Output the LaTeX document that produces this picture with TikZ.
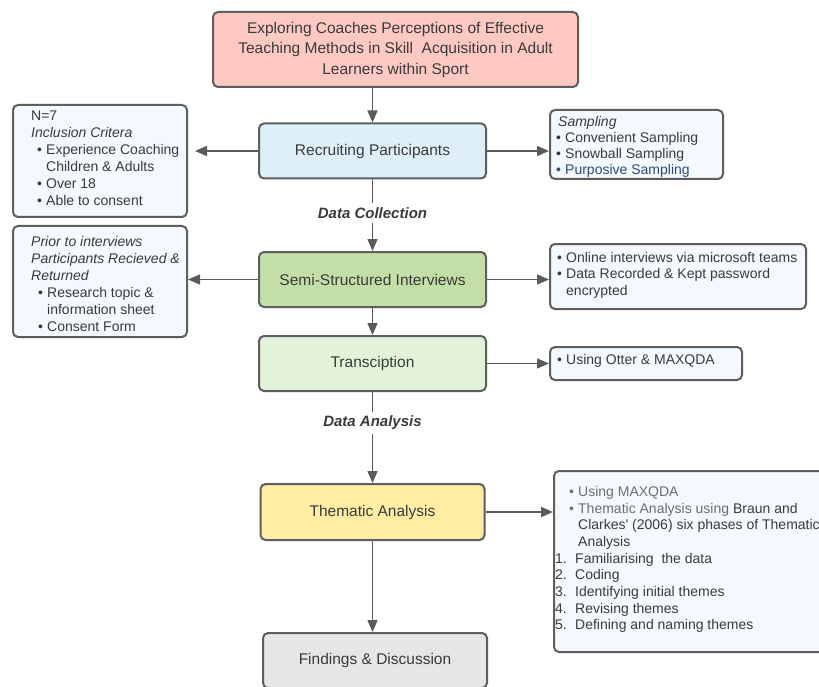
\documentclass[tikz,border=0pt]{standalone}
\usepackage{fontspec}
\setmainfont{Liberation Sans}
\usetikzlibrary{arrows.meta}

\definecolor{edgegrey}{HTML}{5E5E5E}
\definecolor{linkgrey}{HTML}{5A5A5A}
\definecolor{inkdark}{HTML}{3A3A3A}
\definecolor{inksoft}{HTML}{6E6E6E}
\definecolor{inkblue}{HTML}{2E4A78}
\definecolor{titlefill}{HTML}{FFC9C3}
\definecolor{recfill}{HTML}{DEEFF9}
\definecolor{semifill}{HTML}{C3DEA6}
\definecolor{transfill}{HTML}{E3F3D9}
\definecolor{themfill}{HTML}{FFEDA6}
\definecolor{findfill}{HTML}{E6E6E6}
\definecolor{notefill}{HTML}{F3F9FE}

% bullet with a fixed-width slot
\newcommand{\bul}{\makebox[9pt][l]{\textbullet}}
% list number with a fixed-width slot
\newcommand{\numslot}[1]{\makebox[20pt][l]{#1}}

\begin{document}
\begin{tikzpicture}[x=1pt,y=-1pt,
  box/.style={draw=edgegrey, line width=2pt, rounded corners=5pt, inner sep=0pt},
  stage/.style={box, minimum width=227pt, minimum height=55pt, text=inkdark,
    font=\fontsize{15.5}{19}\selectfont},
  note/.style={box, fill=notefill},
  notetext/.style={anchor=north west, inner sep=0pt, align=left, text=inkdark,
    font=\fontsize{14}{17}\selectfont},
  link/.style={draw=linkgrey, line width=1.5pt, -{Triangle[length=12pt,width=10pt]}},
  plain/.style={draw=linkgrey, line width=1.5pt},
  phase/.style={font=\fontsize{15}{18}\selectfont\bfseries\itshape, text=inkdark, inner sep=4pt}
]
\clip (0,0) rectangle (819,687);
\fill[white] (0,0) rectangle (819,687);

% main flow
\node[box, fill=titlefill, minimum width=365pt, minimum height=75pt, align=center,
  text=inkdark, font=\fontsize{15.5}{20.5}\selectfont] (title) at (395.5,49.5)
  {Exploring Coaches Perceptions of Effective\\Teaching Methods in Skill~ Acquisition in Adult\\Learners within Sport};
\node[stage, fill=recfill] (rec) at (372.5,151) {Recruiting Participants};
\node[phase] (collect) at (372.5,213) {Data Collection};
\node[stage, fill=semifill] (semi) at (372.5,279.5) {Semi-Structured Interviews};
\node[stage, fill=transfill] (trans) at (372.5,363.5) {Transciption};
\node[phase] (analyse) at (372.5,423) {Data Analysis};
\node[stage, fill=themfill, minimum width=224pt, minimum height=56pt] (them) at (372.5,512) {Thematic Analysis};
\node[stage, fill=findfill, minimum width=224pt] (find) at (375,660.5) {Findings \& Discussion};

% side notes, left
\node[note, minimum width=174pt, minimum height=112pt] (crit) at (100,161) {};
\node[notetext] (crittext) at ([xshift=19pt,yshift=-7pt]crit.north west)
  {N=7\\
   \textit{Inclusion Critera}\\
   \hspace*{6pt}\bul Experience Coaching\\
   \hspace*{15pt}Children \& Adults\\
   \hspace*{6pt}\bul Over 18\\
   \hspace*{6pt}\bul Able to consent};

\node[note, minimum width=174pt, minimum height=111pt] (prior) at (100,281.5) {};
\node[notetext] (priortext) at ([xshift=19pt,yshift=-11pt]prior.north west)
  {\textit{Prior to interviews}\\
   \textit{Participants Recieved \&}\\
   \textit{Returned}\\
   \hspace*{7pt}\bul Research topic \&\\
   \hspace*{16pt}information sheet\\
   \hspace*{7pt}\bul Consent Form};

% side notes, right
\node[note, minimum width=173pt, minimum height=69pt] (samp) at (636.5,144.5) {};
\node[notetext, font=\fontsize{14}{16}\selectfont] (samptext) at ([xshift=7pt,yshift=-7pt]samp.north west)
  {\hspace*{2pt}\textit{Sampling}\\
   \bul Convenient Sampling\\
   \bul Snowball Sampling\\
   \textcolor{inkblue}{\bul Purposive Sampling}};

\node[note, minimum width=256pt, minimum height=65pt] (online) at (678,276.5) {};
\node[notetext, font=\fontsize{14}{16.5}\selectfont] (onlinetext) at ([xshift=8pt,yshift=-9pt]online.north west)
  {\bul Online interviews via microsoft teams\\
   \bul Data Recorded \& Kept password\\
   \hspace*{9pt}encrypted};

\node[note, minimum width=192pt, minimum height=33pt] (tools) at (646,363.5) {};
\node[notetext] (toolstext) at ([xshift=8pt,yshift=-8pt]tools.north west)
  {\bul Using Otter \& MAXQDA};

\node[note, anchor=west, minimum width=290pt, minimum height=181pt] (phases) at (553,561.5) {};
\node[notetext, font=\fontsize{14}{16.7}\selectfont] (phasestext) at ([xshift=2pt,yshift=-16pt]phases.north west)
  {\hspace*{14pt}\textcolor{inksoft}{\bul Using MAXQDA}\\
   \hspace*{14pt}\textcolor{inksoft}{\bul Thematic Analysis using} Braun and\\
   \hspace*{23pt}Clarkes\textquotesingle{} (2006) six phases of Thematic\\
   \hspace*{23pt}Analysis\\
   \numslot{1.}Familiarising~ the data\\
   \numslot{2.}Coding\\
   \numslot{3.}Identifying initial themes\\
   \numslot{4.}Revising themes\\
   \numslot{5.}Defining and naming themes};

% connectors
\draw[link] (title.south -| rec.north) -- (rec.north);
\draw[link, shorten >=7pt] (rec.west) -- (rec.west -| crit.east);
\draw[link] (rec.east) -- (rec.east -| samp.west);
\draw[plain] (rec.south) -- (collect.north);
\draw[link] (collect.south) -- (semi.north);
\draw[link] (semi.west) -- (semi.west -| prior.east);
\draw[link] (semi.east) -- (semi.east -| online.west);
\draw[link] (semi.south) -- (trans.north);
\draw[link] (trans.east) -- (trans.east -| tools.west);
\draw[plain] (trans.south) -- (analyse.north);
\draw[link] (analyse.south) -- (them.north);
\draw[link] (them.east) -- (them.east -| phases.west);
\draw[link] (them.south) -- (them.south |- find.north);
\end{tikzpicture}
\end{document}
